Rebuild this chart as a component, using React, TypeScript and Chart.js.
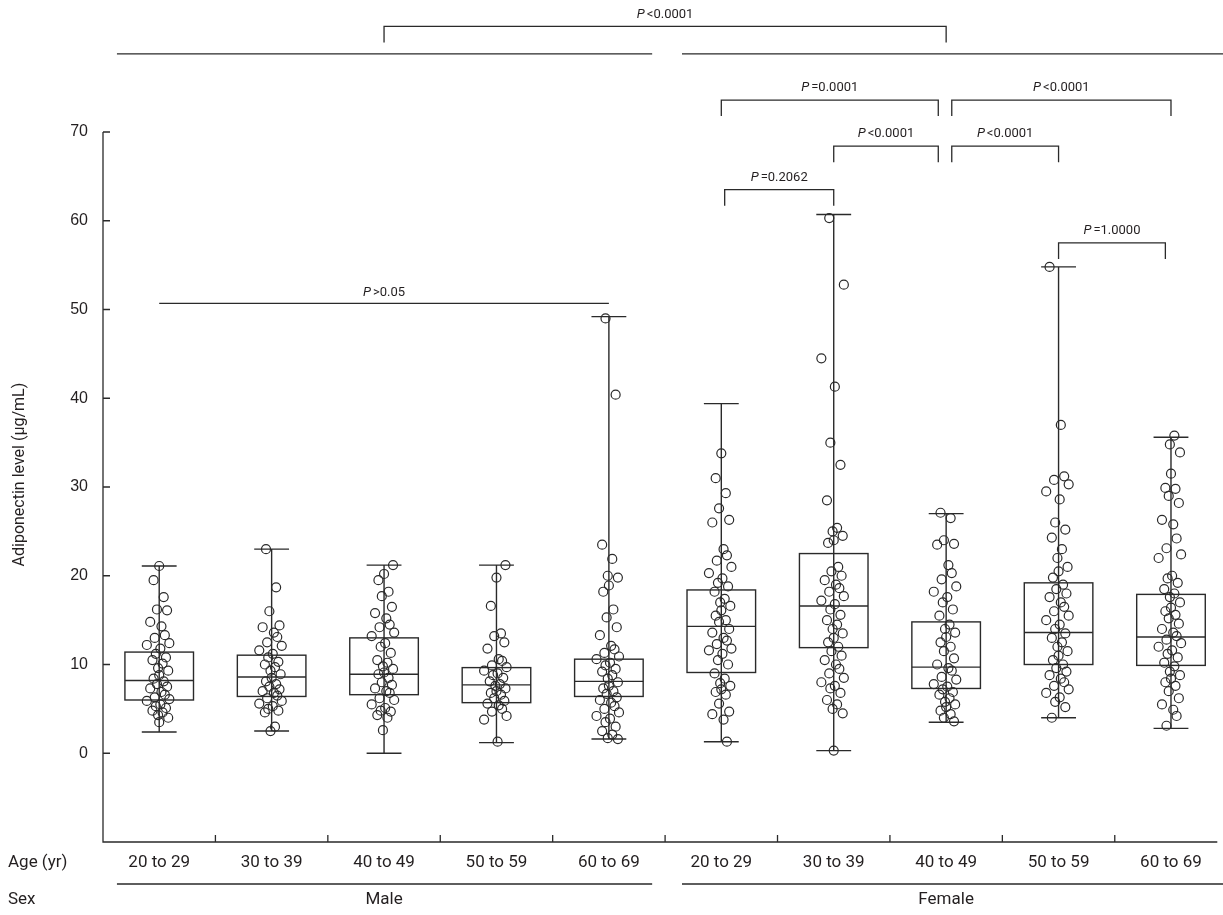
import React, { useEffect, useRef } from "react";
import { Chart, registerables } from "chart.js";

Chart.register(...registerables);

const AGE_LABELS = ["20 to 29", "30 to 39", "40 to 49", "50 to 59", "60 to 69", "20 to 29", "30 to 39", "40 to 49", "50 to 59", "60 to 69"];
const SEX_LABELS = ["Male", "Female"];
const Y_TICKS = [0, 10, 20, 30, 40, 50, 60, 70];

const BOX_MIN = [2.4, 2.5, 0.0, 1.2, 1.6, 1.3, 0.3, 3.5, 4.0, 2.8];
const BOX_Q1 = [6.0, 6.4, 6.6, 5.7, 6.4, 9.1, 11.9, 7.3, 10.0, 9.9];
const BOX_MED = [8.2, 8.6, 8.9, 7.7, 8.1, 14.3, 16.6, 9.7, 13.6, 13.1];
const BOX_Q3 = [11.4, 11.05, 13.0, 9.65, 10.6, 18.4, 22.5, 14.8, 19.2, 17.9];
const BOX_MAX = [21.1, 23.0, 21.2, 21.2, 49.2, 39.4, 60.7, 27.0, 54.8, 35.6];

const M20 = [21.1, 19.5, 17.6, 16.2, 16.1, 14.8, 14.3, 13.3, 13.0, 12.4, 12.2, 11.8, 11.2, 10.8, 10.5, 10.1, 9.6, 9.3, 8.8, 8.4, 8.1, 7.8, 7.5, 7.3, 6.9, 6.6, 6.3, 6.1, 5.9, 5.5, 5.3, 5.1, 4.8, 4.6, 4.3, 4.0, 3.5];
const M30 = [23.0, 18.7, 16.0, 14.4, 14.2, 13.6, 13.1, 12.5, 12.1, 11.6, 11.2, 10.8, 10.3, 10.0, 9.7, 9.3, 8.9, 8.5, 8.1, 7.8, 7.5, 7.2, 7.0, 6.8, 6.5, 6.2, 5.9, 5.6, 5.3, 5.0, 4.8, 4.6, 3.0, 2.5];
const M40 = [21.2, 20.2, 19.5, 18.2, 17.7, 16.5, 15.8, 15.2, 14.5, 14.2, 13.6, 13.2, 12.4, 12.0, 11.3, 10.5, 10.2, 9.8, 9.5, 9.1, 8.9, 8.5, 8.0, 7.7, 7.3, 7.0, 6.8, 6.2, 6.0, 5.5, 5.1, 4.8, 4.7, 4.3, 4.0, 2.6];
const M50 = [21.2, 19.8, 16.6, 13.5, 13.2, 12.5, 11.8, 10.6, 10.4, 9.9, 9.7, 9.3, 9.0, 8.8, 8.5, 8.1, 7.8, 7.6, 7.3, 7.0, 6.8, 6.6, 6.2, 5.9, 5.6, 5.4, 5.0, 4.7, 4.2, 3.8, 1.3];
const M60 = [49.0, 40.4, 23.5, 21.9, 20.0, 19.8, 18.9, 18.2, 16.2, 15.3, 14.2, 13.3, 12.1, 11.7, 11.3, 10.9, 10.6, 10.2, 9.9, 9.5, 9.2, 8.8, 8.4, 8.0, 7.6, 7.3, 7.0, 6.7, 6.3, 6.0, 5.7, 5.3, 5.0, 4.6, 4.2, 3.9, 3.5, 3.0, 2.5, 2.1, 1.7, 1.6];
const F20 = [33.8, 31.0, 29.3, 27.6, 26.3, 26.0, 23.0, 22.3, 21.7, 21.0, 20.3, 19.7, 19.2, 18.8, 18.2, 17.4, 17.0, 16.6, 16.1, 15.5, 15.0, 14.8, 14.0, 13.6, 13.0, 12.7, 12.3, 11.8, 11.6, 11.2, 10.5, 10.0, 9.0, 8.4, 7.9, 7.6, 7.2, 6.9, 6.6, 5.6, 4.7, 4.4, 3.8, 1.3];
const F30 = [60.3, 52.8, 44.5, 41.3, 35.0, 32.5, 28.5, 25.4, 25.0, 24.5, 24.0, 23.7, 21.0, 20.5, 20.0, 19.5, 19.0, 18.6, 18.2, 17.7, 17.2, 16.8, 16.2, 15.6, 15.0, 14.5, 14.0, 13.5, 13.0, 12.5, 12.0, 11.5, 11.0, 10.5, 10.0, 9.5, 9.0, 8.5, 8.0, 7.6, 7.3, 6.8, 6.0, 5.5, 5.0, 4.5, 0.3];
const F40 = [27.1, 26.5, 24.0, 23.6, 23.5, 21.2, 20.3, 19.6, 18.8, 18.2, 17.6, 17.0, 16.2, 15.5, 14.5, 14.0, 13.6, 13.1, 12.5, 12.0, 11.5, 10.7, 10.0, 9.6, 9.3, 8.6, 8.3, 7.8, 7.5, 7.2, 6.9, 6.6, 6.2, 5.8, 5.5, 5.2, 4.8, 4.4, 4.0, 3.6];
const F50 = [54.8, 37.0, 31.2, 30.8, 30.3, 29.5, 28.6, 26.0, 25.2, 24.3, 23.0, 22.0, 21.0, 20.5, 19.8, 19.0, 18.5, 18.0, 17.6, 17.0, 16.5, 16.0, 15.5, 15.0, 14.5, 14.0, 13.5, 13.0, 12.5, 12.0, 11.5, 11.0, 10.5, 10.0, 9.6, 9.2, 8.8, 8.4, 8.0, 7.6, 7.2, 6.8, 6.3, 5.8, 5.2, 4.0];
const F60 = [35.8, 34.8, 33.9, 31.5, 29.9, 29.8, 29.0, 28.2, 26.3, 25.8, 24.2, 23.1, 22.4, 22.0, 20.0, 19.7, 19.2, 18.5, 18.0, 17.6, 17.0, 16.4, 16.0, 15.6, 15.2, 14.6, 14.0, 13.6, 13.2, 12.8, 12.4, 12.0, 11.6, 11.2, 10.8, 10.2, 9.8, 9.2, 8.8, 8.4, 8.0, 7.6, 7.0, 6.2, 5.5, 4.9, 4.2, 3.1];
const GROUP_VALUES = [M20, M30, M40, M50, M60, F20, F30, F40, F50, F60];

// horizontal jitter of points around the group centre (in category units)
const JITTER = [0.0, -0.05, 0.04, -0.02, 0.07, -0.08, 0.02, 0.05, -0.04, 0.09, -0.11, 0.01, -0.03, 0.06, -0.06, 0.03, -0.01, 0.08];

// significance brackets
const BRACKET_X1 = [2.5, 5.5, 7.55, 6.5, 7.55, 5.53, 8.5];
const BRACKET_X2 = [7.5, 7.43, 9.5, 7.43, 8.5, 6.5, 9.45];
const BRACKET_Y = [81.9, 73.6, 73.6, 68.4, 68.4, 63.5, 57.5];
const BRACKET_LABELS = ["<0.0001", "=0.0001", "<0.0001", "<0.0001", "<0.0001", "=0.2062", "=1.0000"];
const MALE_SPAN = [0.124, 4.885];
const FEMALE_SPAN = [5.15, 10.2];
const NS_SPAN = [0.5, 4.5];
const NS_LABEL = ">0.05";

const X_MAX = 9.912;
const INK = "#2a2a2a";

export default function App() {
  const ref = useRef<HTMLCanvasElement | null>(null);

  useEffect(() => {
    const canvas = ref.current;
    if (!canvas) return;

    const points: { x: number; y: number }[] = [];
    let k = 0;
    GROUP_VALUES.forEach((vals, gi) => {
      vals.forEach((v) => {
        points.push({ x: gi + 0.5 + JITTER[k % JITTER.length], y: v });
        k++;
      });
    });

    const boxPlugin = {
      id: "boxes",
      beforeDatasetsDraw(chart: any) {
        const { ctx, scales } = chart;
        const xs = scales.x;
        const ys = scales.y;
        const unit = xs.getPixelForValue(1) - xs.getPixelForValue(0);
        ctx.save();
        ctx.strokeStyle = INK;
        ctx.lineWidth = 1.4;
        for (let i = 0; i < BOX_MED.length; i++) {
          const cx = xs.getPixelForValue(i + 0.5);
          const bw = unit * 0.305;
          const cw = unit * 0.155;
          const yMin = ys.getPixelForValue(BOX_MIN[i]);
          const yMax = ys.getPixelForValue(BOX_MAX[i]);
          const yQ1 = ys.getPixelForValue(BOX_Q1[i]);
          const yQ3 = ys.getPixelForValue(BOX_Q3[i]);
          const yMed = ys.getPixelForValue(BOX_MED[i]);
          ctx.beginPath();
          ctx.moveTo(cx, yMin);
          ctx.lineTo(cx, yMax);
          ctx.moveTo(cx - cw, yMin);
          ctx.lineTo(cx + cw, yMin);
          ctx.moveTo(cx - cw, yMax);
          ctx.lineTo(cx + cw, yMax);
          ctx.stroke();
          ctx.strokeRect(cx - bw, yQ3, bw * 2, yQ1 - yQ3);
          ctx.beginPath();
          ctx.moveTo(cx - bw, yMed);
          ctx.lineTo(cx + bw, yMed);
          ctx.stroke();
        }
        ctx.restore();
      },
      afterDraw(chart: any) {
        const { ctx, scales, chartArea } = chart;
        const xs = scales.x;
        const ys = scales.y;
        const X = (v: number) => xs.getPixelForValue(v);
        const Y = (v: number) => ys.getPixelForValue(v);
        ctx.save();
        ctx.strokeStyle = INK;
        ctx.fillStyle = "#231f20";
        ctx.lineWidth = 1.3;

        // axes
        ctx.beginPath();
        ctx.moveTo(chartArea.left, Y(70));
        ctx.lineTo(chartArea.left, chartArea.bottom);
        ctx.lineTo(chartArea.right, chartArea.bottom);
        Y_TICKS.forEach((t) => {
          ctx.moveTo(chartArea.left, Y(t));
          ctx.lineTo(chartArea.left + 7, Y(t));
        });
        for (let i = 1; i < AGE_LABELS.length; i++) {
          ctx.moveTo(X(i), chartArea.bottom);
          ctx.lineTo(X(i), chartArea.bottom - 7);
        }
        ctx.stroke();

        // y tick labels
        ctx.font = "16px 'Liberation Sans', Arial, sans-serif";
        ctx.textAlign = "right";
        ctx.textBaseline = "middle";
        Y_TICKS.forEach((t) => ctx.fillText(String(t), chartArea.left - 15, Y(t)));

        // y title
        ctx.save();
        ctx.translate(20, Y(31.4));
        ctx.rotate(-Math.PI / 2);
        ctx.textAlign = "center";
        ctx.font = "16px 'Liberation Sans Narrow', Roboto, sans-serif";
        ctx.fillText("Adiponectin level (μg/mL)", 0, 0);
        ctx.restore();

        // category labels
        ctx.font = "17px Roboto, sans-serif";
        ctx.textAlign = "center";
        ctx.textBaseline = "middle";
        const rowAge = chartArea.bottom + 21;
        const rowSex = chartArea.bottom + 58;
        AGE_LABELS.forEach((l, i) => ctx.fillText(l, X(i + 0.5), rowAge));
        ctx.fillText(SEX_LABELS[0], X(2.5), rowSex);
        ctx.fillText(SEX_LABELS[1], X(7.5), rowSex);
        ctx.textAlign = "left";
        ctx.fillText("Age (yr)", 8, rowAge);
        ctx.fillText("Sex", 8, rowSex);

        // underlines
        const uY = chartArea.bottom + 42;
        ctx.beginPath();
        ctx.moveTo(X(MALE_SPAN[0]), uY);
        ctx.lineTo(X(MALE_SPAN[1]), uY);
        ctx.moveTo(X(FEMALE_SPAN[0]), uY);
        ctx.lineTo(X(FEMALE_SPAN[1]), uY);
        // top group lines
        ctx.moveTo(X(MALE_SPAN[0]), Y(78.8));
        ctx.lineTo(X(MALE_SPAN[1]), Y(78.8));
        ctx.moveTo(X(FEMALE_SPAN[0]), Y(78.8));
        ctx.lineTo(X(FEMALE_SPAN[1]), Y(78.8));
        // n.s. line
        ctx.moveTo(X(NS_SPAN[0]), Y(50.7));
        ctx.lineTo(X(NS_SPAN[1]), Y(50.7));
        ctx.stroke();

        const drawP = (cx: number, cy: number, rest: string) => {
          ctx.textBaseline = "middle";
          ctx.font = "italic 13px Roboto, sans-serif";
          const wP = ctx.measureText("P").width;
          ctx.font = "13px Roboto, sans-serif";
          const wR = ctx.measureText(rest).width;
          const total = wP + 2 + wR;
          const left = cx - total / 2;
          ctx.textAlign = "left";
          ctx.font = "italic 13px Roboto, sans-serif";
          ctx.fillText("P", left, cy);
          ctx.font = "13px Roboto, sans-serif";
          ctx.fillText(rest, left + wP + 2, cy);
        };

        // brackets
        for (let i = 0; i < BRACKET_X1.length; i++) {
          const x1 = X(BRACKET_X1[i]);
          const x2 = X(BRACKET_X2[i]);
          const yl = Y(BRACKET_Y[i]);
          const yd = yl + 16;
          ctx.beginPath();
          ctx.moveTo(x1, yd);
          ctx.lineTo(x1, yl);
          ctx.lineTo(x2, yl);
          ctx.lineTo(x2, yd);
          ctx.stroke();
          drawP((x1 + x2) / 2, yl - 12, BRACKET_LABELS[i]);
        }
        drawP((X(NS_SPAN[0]) + X(NS_SPAN[1])) / 2, Y(50.7) - 11, NS_LABEL);
        ctx.restore();
      },
    };

    const chart = new Chart(canvas, {
      type: "scatter",
      data: {
        datasets: [
          {
            data: points,
            pointRadius: 4.5,
            pointBorderWidth: 1.2,
            pointBorderColor: INK,
            pointBackgroundColor: "rgba(0,0,0,0)",
          },
        ],
      },
      options: {
        animation: false,
        responsive: false,
        maintainAspectRatio: false,
        layout: { padding: { left: 103, right: 0, top: 132, bottom: 73 } },
        scales: {
          x: { type: "linear", display: false, min: 0, max: X_MAX },
          y: { type: "linear", display: false, min: -10, max: 70 },
        },
        plugins: { legend: { display: false }, tooltip: { enabled: false } },
      },
      plugins: [boxPlugin],
    });
    return () => chart.destroy();
  }, []);

  return (
    <div style={{ position: "fixed", left: 0, top: 0, width: 1223, height: 915, background: "#fff" }}>
      <canvas ref={ref} width={1223} height={915} />
    </div>
  );
}
